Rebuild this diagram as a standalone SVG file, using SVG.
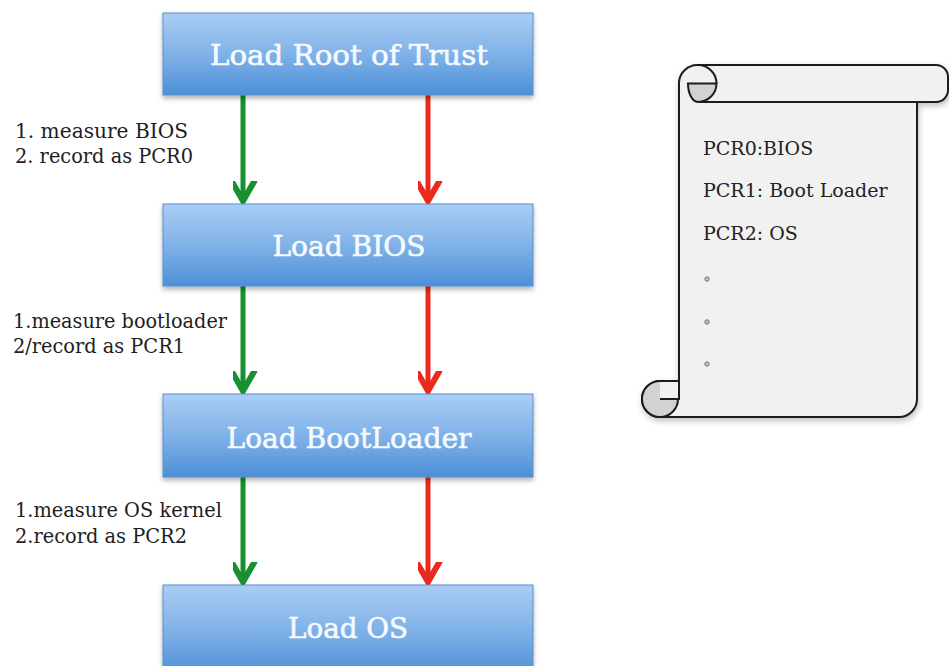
<svg xmlns="http://www.w3.org/2000/svg" width="949" height="666" viewBox="0 0 949 666">
<style>
.box{fill:url(#bg);stroke:#5b8fc9;stroke-width:1;filter:url(#sh)}
.bt{font-family:"DejaVu Serif","Liberation Serif",serif;font-size:28px;fill:#f6faff;stroke:#f6faff;stroke-width:0.6;text-anchor:middle}
.lb{font-family:"DejaVu Serif","Liberation Serif",serif;font-size:20px;fill:#1e1e1e}
.st{font-family:"DejaVu Serif","Liberation Serif",serif;font-size:19px;fill:#222}
.g{stroke:#17902f;stroke-width:5;fill:none}
.r{stroke:#ea2a1f;stroke-width:5;fill:none}
.sc{fill:#f1f1f1;stroke:#1c1c1c;stroke-width:2;stroke-linejoin:round}
.gr{fill:#d2d2d2}
.ln{fill:none;stroke:#1c1c1c;stroke-width:2}
.dot{fill:#c4c4c4;stroke:#666;stroke-width:0.9}
</style>
<defs>
<linearGradient id="bg" x1="0" y1="0" x2="0" y2="1">
<stop offset="0" stop-color="#aacdf4"/>
<stop offset="0.5" stop-color="#80b2e8"/>
<stop offset="1" stop-color="#4d8fd8"/>
</linearGradient>
<filter id="sh" x="-10%" y="-20%" width="120%" height="150%">
<feDropShadow dx="0" dy="3" stdDeviation="2.5" flood-color="#000" flood-opacity="0.3"/>
</filter>
<filter id="ssh" x="-10%" y="-10%" width="120%" height="120%">
<feDropShadow dx="1" dy="3" stdDeviation="3" flood-color="#000" flood-opacity="0.25"/>
</filter>
<marker id="ag" markerUnits="userSpaceOnUse" markerWidth="40" markerHeight="40" viewBox="-20 -30 40 40" refX="0" refY="0" orient="auto-start-reverse">
<path d="M-21,-12 L0,0 L-21,12" fill="none" stroke="#17902f" stroke-width="6" stroke-linejoin="miter"/>
</marker>
<marker id="ar" markerUnits="userSpaceOnUse" markerWidth="40" markerHeight="40" viewBox="-20 -30 40 40" refX="0" refY="0" orient="auto-start-reverse">
<path d="M-21,-12 L0,0 L-21,12" fill="none" stroke="#ea2a1f" stroke-width="6" stroke-linejoin="miter"/>
</marker>
</defs>
<rect width="949" height="666" fill="#fff"/>

<g id="connectors">
<line class="g" x1="243" y1="95" x2="243" y2="201" marker-end="url(#ag)"/>
<line class="r" x1="428" y1="95" x2="428" y2="201" marker-end="url(#ar)"/>
<line class="g" x1="243" y1="286" x2="243" y2="391" marker-end="url(#ag)"/>
<line class="r" x1="428" y1="286" x2="428" y2="391" marker-end="url(#ar)"/>
<line class="g" x1="243" y1="477" x2="243" y2="582" marker-end="url(#ag)"/>
<line class="r" x1="428" y1="477" x2="428" y2="582" marker-end="url(#ar)"/>
<text class="lb" x="15" y="138" textLength="173" lengthAdjust="spacingAndGlyphs">1. measure BIOS</text>
<text class="lb" x="15" y="163" textLength="178" lengthAdjust="spacingAndGlyphs">2. record as PCR0</text>
<text class="lb" x="13" y="328" textLength="214" lengthAdjust="spacingAndGlyphs">1.measure bootloader</text>
<text class="lb" x="13" y="353" textLength="172" lengthAdjust="spacingAndGlyphs">2/record as PCR1</text>
<text class="lb" x="15" y="517" textLength="207" lengthAdjust="spacingAndGlyphs">1.measure OS kernel</text>
<text class="lb" x="15" y="543" textLength="172" lengthAdjust="spacingAndGlyphs">2.record as PCR2</text>
</g>

<g id="root">
<rect class="box" x="163" y="13" width="370" height="82"/>
<text class="bt" x="349" y="65" textLength="278" lengthAdjust="spacingAndGlyphs">Load Root of Trust</text>
</g>
<g id="bios">
<rect class="box" x="163" y="204" width="370" height="82"/>
<text class="bt" x="349" y="256" textLength="153" lengthAdjust="spacingAndGlyphs">Load BIOS</text>
</g>
<g id="bootloader">
<rect class="box" x="163" y="394" width="370" height="83"/>
<text class="bt" x="349" y="448" textLength="245" lengthAdjust="spacingAndGlyphs">Load BootLoader</text>
</g>
<g id="os">
<rect class="box" x="163" y="585" width="370" height="90"/>
<text class="bt" x="348" y="638" textLength="120" lengthAdjust="spacingAndGlyphs">Load OS</text>
</g>

<g id="scroll">
<g filter="url(#ssh)">
<path class="sc" d="M679,95 L679,381 L660,381 A18,18 0 0 0 660,417 L899,417 A18,18 0 0 0 917,399 L917,95 Z"/>
<path class="sc" d="M679,112 L679,83.5 A18.5,18.5 0 0 1 698,65 L936,65 A12,12 0 0 1 948,77 L948,90 A12,12 0 0 1 936,102 L698,102"/>
</g>
<path class="gr" d="M660,399 L678,399 A18,18 0 1 1 660,381 Z"/>
<path class="ln" d="M660,381 A18,18 0 1 0 678,399 L660,399"/>
<line class="ln" x1="679" y1="378" x2="679" y2="400"/>
<path class="gr" d="M688,83.5 L716.5,83.5 A18.5,18.5 0 0 1 698,102 A10,18.5 0 0 1 688,83.5 Z" stroke="#1c1c1c" stroke-width="2"/>
<path class="ln" d="M698,65 A18.5,18.5 0 0 1 716.5,83.5"/>
<text class="st" x="703" y="155">PCR0:BIOS</text>
<text class="st" x="703" y="197">PCR1: Boot Loader</text>
<text class="st" x="703" y="240">PCR2: OS</text>
<circle class="dot" cx="707" cy="279" r="2.2"/>
<circle class="dot" cx="707" cy="322" r="2.2"/>
<circle class="dot" cx="707" cy="364" r="2.2"/>
</g>
</svg>
